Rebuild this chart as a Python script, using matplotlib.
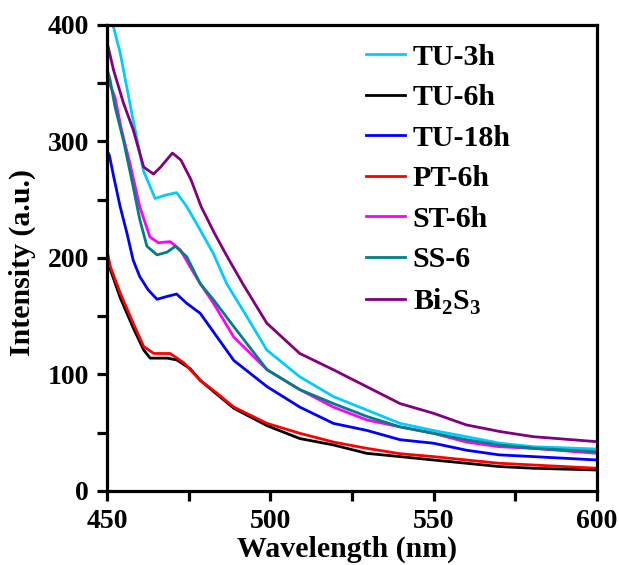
import matplotlib.pyplot as plt
from matplotlib.ticker import MultipleLocator

# -------------------------------
# data
# -------------------------------
tu3h_wl = [450, 451.8, 454, 458, 461.1, 464.7, 468, 471.3, 474.4, 478.5, 482.5, 486.6, 492.7,
           498.9, 509, 519.3, 529.5, 539.7, 549.8, 560, 570.3, 580.5, 600]
tu3h_int = [415, 400, 376, 318, 275, 251, 254, 256, 244, 224, 204, 178, 150,
            121, 98, 81, 69.5, 58, 52, 46.6, 41, 38, 36]

tu6h_wl = [450, 451, 454, 458, 461.2, 463.2, 468.4, 471.3, 475.4, 478.5, 483.6, 488.8, 499,
           509, 519.3, 529.5, 539.7, 549.9, 560, 570, 580.5, 600]
tu6h_int = [203, 190, 166, 140, 121, 114, 114, 112.5, 105, 95, 83, 71, 56,
            45, 39.5, 32.3, 29.5, 26.6, 23.8, 21, 19.5, 18]

tu18h_wl = [450, 450.7, 452, 454, 456.1, 458, 460, 462.6, 465.3, 468.4, 471.3, 474.4, 478.5,
            488.8, 499, 509, 519.3, 529.5, 539.7, 549.9, 560, 570, 580.5, 600]
tu18h_int = [292, 288, 270, 244, 221, 198, 184, 172.5, 164.5, 167, 169, 161, 152.5,
             112, 89.5, 72, 58, 52, 44, 41, 35, 31, 29.5, 26.6]

pt6h_wl = [450, 451, 454, 458, 461.2, 464.3, 469.3, 473.5, 478.5, 483.6, 488.8, 499,
           509, 519.3, 529.5, 539.7, 549.9, 560, 570, 580.5, 600]
pt6h_int = [206, 192.5, 170, 144, 124, 118, 118, 110, 95, 84, 72, 58,
            49.5, 42, 36.6, 32, 29.5, 26.6, 23.8, 22.3, 19.5]

st6h_wl = [450, 452.4, 454.4, 457, 460, 463.1, 465.7, 469.3, 472.4, 475.4, 478.5, 482.6,
           488.8, 499, 509, 519.3, 529.5, 539.7, 549.9, 560, 570, 580.5, 600]
st6h_int = [355, 338, 310, 281, 244, 218, 213, 214, 207, 192.5, 178, 161,
            132, 104, 87, 72, 61, 55, 49.5, 42, 38, 36.6, 32.3]

ss6_wl = [450, 450.9, 452.4, 455, 458, 460, 462.2, 465.3, 468.4, 470.9, 474.4, 478.5, 482.6,
          488.8, 499, 509, 519.3, 529.5, 539.7, 549.9, 560, 570, 580.5, 600]
ss6_int = [362, 353, 330, 301, 261, 233, 210, 202.6, 205, 210, 201, 178, 164,
           141, 104, 87, 75, 64, 55, 49.5, 44, 39.5, 36.6, 33.7]

bi2s3_wl = [450, 452, 455, 458, 461.2, 464.2, 466.4, 470, 472.6, 475.7, 478.8, 482.9, 487,
            491.5, 498.9, 509, 519.3, 529.5, 539.7, 549.9, 560, 570.3, 580.5, 600]
bi2s3_int = [385, 361, 333, 310, 278, 272, 278, 290, 284, 267, 244, 221, 200,
             178, 144, 118, 104, 89.5, 75, 66.7, 56.7, 51, 46.6, 42.3]

series = [
    ("TU-3h", tu3h_wl, tu3h_int, "#00CCFF"),
    ("TU-6h", tu6h_wl, tu6h_int, "black"),
    ("TU-18h", tu18h_wl, tu18h_int, "#0000FF"),
    ("PT-6h", pt6h_wl, pt6h_int, "#FF0000"),
    ("ST-6h", st6h_wl, st6h_int, "#FF00FF"),
    ("SS-6", ss6_wl, ss6_int, "#008080"),
    (r"Bi$_\mathbf{2}$S$_\mathbf{3}$", bi2s3_wl, bi2s3_int, "#800080"),
]

plt.rcParams['font.family'] = ['Liberation Serif', 'DejaVu Serif']
plt.rcParams['font.weight'] = 'bold'
plt.rcParams['mathtext.fontset'] = 'custom'
plt.rcParams['mathtext.rm'] = 'Liberation Serif:bold'
plt.rcParams['mathtext.bf'] = 'Liberation Serif:bold'

fig = plt.figure(figsize=(6.19, 5.65), dpi=100)
ax = fig.add_axes([0.173, 0.131, 0.7915, 0.825])

for name, wl, inten, col in series:
    ax.plot(wl, inten, color=col, lw=2, label=name)

ax.set_xlim(450, 600)
ax.set_ylim(0, 400)
ax.xaxis.set_major_locator(MultipleLocator(50))
ax.xaxis.set_minor_locator(MultipleLocator(25))
ax.yaxis.set_major_locator(MultipleLocator(100))
ax.yaxis.set_minor_locator(MultipleLocator(50))
ax.tick_params(which='both', direction='out', length=7, width=2.3, top=False, right=False)
ax.tick_params(labelsize=20, pad=6)
for s in ax.spines.values():
    s.set_linewidth(2.3)

ax.set_xlabel("Wavelength (nm)", fontsize=21.5, fontweight='bold')
ax.set_ylabel("Intensity (a.u.)", fontsize=21.5, fontweight='bold')
ax.xaxis.set_label_coords(0.49, -0.095)
ax.yaxis.set_label_coords(-0.145, 0.49)

ax.legend(loc='upper left', bbox_to_anchor=(0.505, 0.985), frameon=False,
          labelspacing=0.45, handlelength=1.3, handletextpad=0.25, borderaxespad=0,
          prop={'weight': 'bold', 'size': 21.5})

fig.savefig("out.png", dpi=100)
